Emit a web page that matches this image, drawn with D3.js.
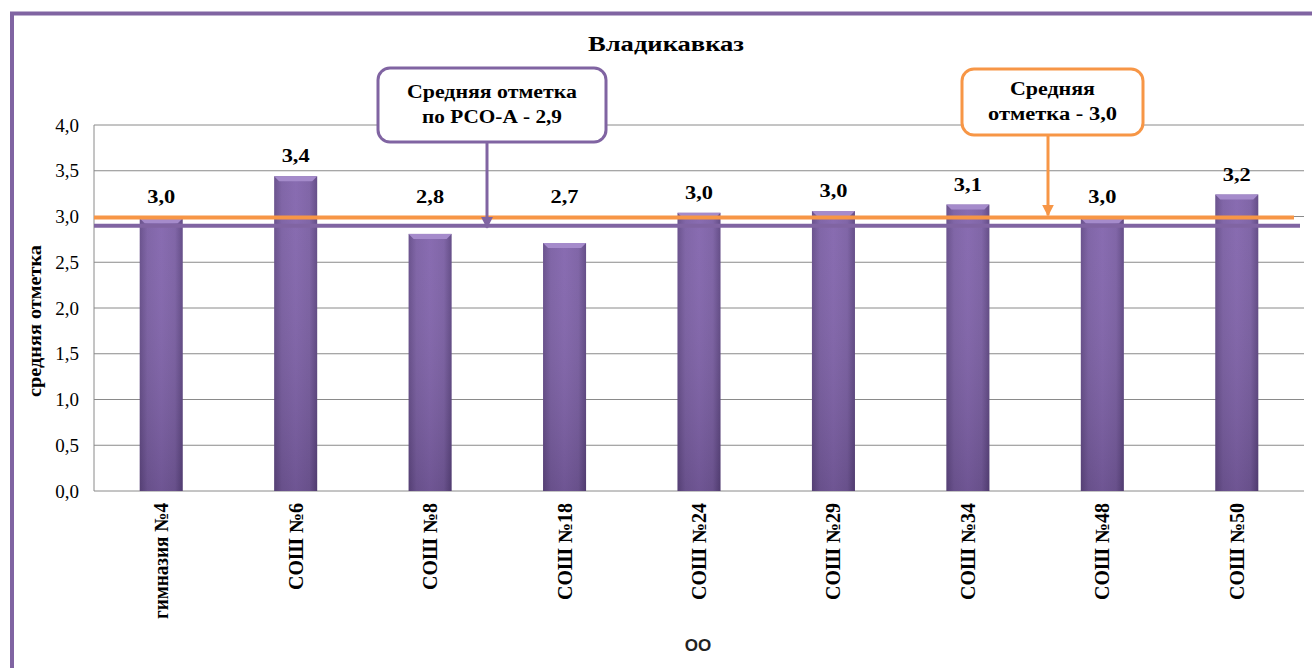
<!DOCTYPE html>
<html>
<head>
<meta charset="utf-8">
<script src="https://cdn.jsdelivr.net/npm/d3@7"></script>
</head>
<body style="margin:0;background:#fff">
<div id="chart"></div>
<script>
const width = 1312
const height = 668
const margin = {top: 125, bottom: 177, left: 94, right: 8}
const serif = "\"Liberation Serif\""

// данные
const schools = ["гимназия №4", "СОШ №6", "СОШ №8", "СОШ №18", "СОШ №24", "СОШ №29", "СОШ №34", "СОШ №48", "СОШ №50"]
const marks = [2.98, 3.44, 2.81, 2.71, 3.04, 3.06, 3.13, 2.98, 3.24]
const markLabels = ["3,0", "3,4", "2,8", "2,7", "3,0", "3,0", "3,1", "3,0", "3,2"]
const yTicks = [0, 0.5, 1, 1.5, 2, 2.5, 3, 3.5, 4]
const avgRegion = 2.9
const avgCity = 2.99
const calloutRegion = ["Средняя отметка", "по РСО-А - 2,9"]
const calloutCity = ["Средняя", "отметка - 3,0"]

const purple = "#8064A2"
const orange = "#F79646"

const svg = d3.select("#chart").append("svg").attr("width", width).attr("height", height)

// градиент столбцов
const defs = svg.append("defs")
const grad = defs.append("linearGradient").attr("id", "barGrad").attr("x1", "0").attr("x2", "1").attr("y1", "0").attr("y2", "0")
grad.append("stop").attr("offset", "0%").attr("stop-color", "#634a88")
grad.append("stop").attr("offset", "18%").attr("stop-color", "#7a5ea3")
grad.append("stop").attr("offset", "50%").attr("stop-color", "#8264ad")
grad.append("stop").attr("offset", "82%").attr("stop-color", "#7a5ea3")
grad.append("stop").attr("offset", "100%").attr("stop-color", "#5d4582")
const vgrad = defs.append("linearGradient").attr("id", "barShade").attr("x1", "0").attr("x2", "0").attr("y1", "0").attr("y2", "1")
vgrad.append("stop").attr("offset", "0%").attr("stop-color", "#fff").attr("stop-opacity", 0.05)
vgrad.append("stop").attr("offset", "100%").attr("stop-color", "#000").attr("stop-opacity", 0.15)
defs.append("marker").attr("id", "arrPurple").attr("viewBox", "0 0 10 10").attr("refX", 9).attr("refY", 5)
    .attr("markerWidth", 4).attr("markerHeight", 4).attr("orient", "auto")
    .append("path").attr("d", "M0,0 L10,5 L0,10 z").attr("fill", purple)
defs.append("marker").attr("id", "arrOrange").attr("viewBox", "0 0 10 10").attr("refX", 9).attr("refY", 5)
    .attr("markerWidth", 4).attr("markerHeight", 4).attr("orient", "auto")
    .append("path").attr("d", "M0,0 L10,5 L0,10 z").attr("fill", orange)

// рамка
svg.append("rect").attr("x", 12).attr("y", 13.5).attr("width", width + 20).attr("height", height + 20)
    .attr("fill", "none").attr("stroke", purple).attr("stroke-width", 4)

const x = d3.scaleBand().domain(schools).range([margin.left, width - margin.right]).paddingInner(0.68).paddingOuter(0.34)
const y = d3.scaleLinear().domain([0, 4]).range([height - margin.bottom, margin.top])

// сетка
svg.append("g").selectAll("line").data(yTicks).join("line")
    .attr("x1", margin.left).attr("x2", width - margin.right)
    .attr("y1", d => y(d)).attr("y2", d => y(d))
    .attr("stroke", "#8a8a8a").attr("stroke-width", 1)
svg.append("line").attr("x1", margin.left).attr("x2", margin.left)
    .attr("y1", y(4)).attr("y2", y(0)).attr("stroke", "#8a8a8a")

// ось Y
const yAxis = d3.axisLeft(y).tickValues(yTicks).tickSize(0).tickPadding(15)
    .tickFormat(d => d3.format(".1f")(d).replace(".", ","))
const yAxisGroup = svg.append("g").attr("transform", `translate(${margin.left},0)`).call(yAxis)
yAxisGroup.select(".domain").remove()
yAxisGroup.selectAll("text").attr("fill", "#000")
    .style("font-family", serif).style("font-size", "19px")

// ось X
const xAxis = d3.axisBottom(x).tickSize(0).tickPadding(0)
const xAxisGroup = svg.append("g").attr("transform", `translate(0,${y(0)})`).call(xAxis)
xAxisGroup.select(".domain").remove()
xAxisGroup.selectAll("text")
    .attr("transform", "rotate(-90)")
    .attr("x", -12).attr("y", 0).attr("dy", "0.35em")
    .attr("text-anchor", "end").attr("fill", "#000")
    .style("font-family", serif).style("font-size", "20px").style("font-weight", "bold")
    .attr("textLength", (d, i) => i === 0 ? 116 : null)
    .attr("lengthAdjust", "spacingAndGlyphs")

// столбцы
const bars = svg.append("g").selectAll("g").data(schools).join("g")
bars.append("rect")
    .attr("x", d => x(d)).attr("y", (d, i) => y(marks[i]))
    .attr("width", x.bandwidth()).attr("height", (d, i) => y(0) - y(marks[i]))
    .attr("fill", "url(#barGrad)")
bars.append("rect")
    .attr("x", d => x(d)).attr("y", (d, i) => y(marks[i]))
    .attr("width", x.bandwidth()).attr("height", (d, i) => y(0) - y(marks[i]))
    .attr("fill", "url(#barShade)")
bars.append("path")
    .attr("d", (d, i) => {
        const x0 = x(d), x1 = x(d) + x.bandwidth(), t = y(marks[i]), b = 5
        return `M${x0},${t} L${x1},${t} L${x1 - b},${t + b} L${x0 + b},${t + b} Z`
    })
    .attr("fill", "#a58bcb")

// подписи значений (над средней линией, если столбец ниже)
svg.append("g").selectAll("text").data(schools).join("text")
    .attr("x", d => x(d) + x.bandwidth() / 2)
    .attr("y", (d, i) => Math.min(y(marks[i]), y(avgCity)) - 14)
    .attr("text-anchor", "middle")
    .style("font-family", serif).style("font-size", "19px").style("font-weight", "bold")
    .attr("textLength", 28).attr("lengthAdjust", "spacingAndGlyphs")
    .text((d, i) => markLabels[i])

// средние линии
svg.append("line").attr("x1", margin.left).attr("x2", width - margin.right - 4)
    .attr("y1", y(avgRegion)).attr("y2", y(avgRegion))
    .attr("stroke", purple).attr("stroke-width", 4)
svg.append("line").attr("x1", margin.left).attr("x2", width - margin.right - 10)
    .attr("y1", y(avgCity)).attr("y2", y(avgCity))
    .attr("stroke", orange).attr("stroke-width", 4)

// выноски
function callout(lines, lens, color, marker, bx, by, bw, bh, ax, ay) {
    const g = svg.append("g")
    g.append("line").attr("x1", ax).attr("x2", ax).attr("y1", by + bh).attr("y2", ay)
        .attr("stroke", color).attr("stroke-width", 3).attr("marker-end", `url(#${marker})`)
    g.append("rect").attr("x", bx).attr("y", by).attr("width", bw).attr("height", bh)
        .attr("rx", 12).attr("fill", "#fff").attr("stroke", color).attr("stroke-width", 3)
    g.selectAll("text").data(lines).join("text")
        .attr("x", bx + bw / 2).attr("y", (d, i) => by + bh / 2 + (i - 0.5) * 25 - 1)
        .attr("dy", "0.35em")
        .attr("text-anchor", "middle")
        .style("font-family", serif).style("font-size", "18px").style("font-weight", "bold")
        .attr("textLength", (d, i) => lens[i]).attr("lengthAdjust", "spacingAndGlyphs")
        .text(d => d)
}
callout(calloutRegion, [170, 140], purple, "arrPurple", 378, 68, 228, 74, 487, y(avgRegion) + 2)
callout(calloutCity, [85, 129], orange, "arrOrange", 962, 69, 181, 66, 1048, y(avgCity) - 2)

// заголовки
svg.append("text").attr("x", 666).attr("y", 51).attr("text-anchor", "middle")
    .style("font-family", serif).style("font-size", "20px").style("font-weight", "bold")
    .attr("textLength", 156).attr("lengthAdjust", "spacingAndGlyphs")
    .text("Владикавказ")
svg.append("text").attr("transform", `translate(41,${(y(0) + y(4)) / 2 + 13}) rotate(-90)`)
    .attr("text-anchor", "middle")
    .style("font-family", serif).style("font-size", "18px").style("font-weight", "bold")
    .attr("textLength", 152).attr("lengthAdjust", "spacingAndGlyphs")
    .text("средняя отметка")
svg.append("text").attr("x", 698).attr("y", 651).attr("text-anchor", "middle")
    .style("font-family", "\"Liberation Sans\"").style("font-size", "17px").style("font-weight", "bold")
    .attr("fill", "#222")
    .text("ОО")
</script>
</body>
</html>
